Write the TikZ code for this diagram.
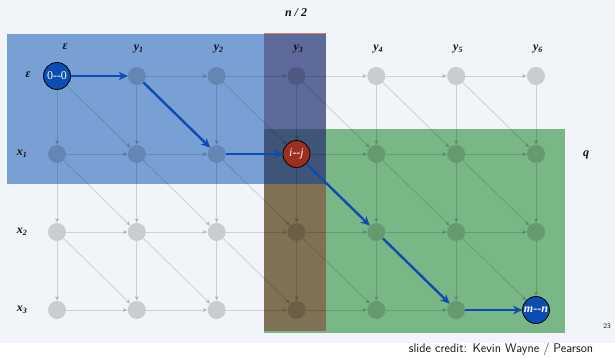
\documentclass[tikz,border=0pt]{standalone}
\usepackage{fontspec}
\newfontfamily\labfont{Liberation Serif}
\usetikzlibrary{arrows.meta}
\definecolor{slidebg}{HTML}{F1F4F8}
\definecolor{leftpart}{HTML}{78A0D5}
\definecolor{rightpart}{HTML}{79B886}
\definecolor{midtop}{HTML}{5D6A9A}
\definecolor{midcore}{HTML}{3E5577}
\definecolor{midlow}{HTML}{7F7153}
\definecolor{midedge}{HTML}{D08070}
\definecolor{route}{HTML}{0B4DB2}
\definecolor{pivot}{HTML}{9E2E20}
\definecolor{ink}{HTML}{111111}
\tikzset{
  % grid vertices and edges are black at low opacity, so that they darken
  % whatever region lies beneath them
  dot/.style={circle, fill=black, fill opacity=0.16, minimum size=18pt, inner sep=0pt},
  hole/.style={circle, minimum size=27pt, inner sep=0pt},
  link/.style={draw=black, opacity=0.15, line width=0.8pt,
               -{Stealth[length=5pt,width=4.5pt]}},
  route/.style={draw=route, line width=2.4pt, -{Stealth[length=9pt,width=8.5pt]}},
  endpt/.style={circle, draw=black, line width=0.8pt, fill=route, text=white,
                minimum size=27pt, inner sep=0pt, font=\labfont\fontsize{12}{12}\selectfont},
  midpt/.style={endpt, fill=pivot},
  lab/.style={text=ink, font=\labfont\bfseries\itshape\fontsize{12}{12}\selectfont},
}
\newcommand{\seq}[2]{#1\textsubscript{#2}}

\begin{document}
\begin{tikzpicture}[x=1pt,y=-1pt]
  \def\dx{79.83}
  \def\dy{78}
  \def\ox{57}
  \def\oy{76}

  \useasboundingbox (0,0) rectangle (615,357);
  \fill[slidebg] (0,0) rectangle (615,343);
  \fill[white] (0,343) rectangle (615,357);

  % --- the three regions, each overlap filled on its own --------------------
  \fill[leftpart]  (7,34) rectangle (326,184);
  \fill[rightpart] (264,129) rectangle (565,333);
  \fill[midedge]   (264,33) rectangle (326,34);
  \fill[midtop]    (264,34) rectangle (326,129);
  \fill[midcore]   (264,129) rectangle (326,184);
  \fill[midlow]    (264,184) rectangle (326,331);

  % --- edit graph -----------------------------------------------------------
  \foreach \r in {0,...,3}
    \foreach \c in {0,...,6}
      \node[dot] (g\r\c) at (\ox+\c*\dx, \oy+\r*\dy) {};
  % the three marked vertices are wider, so edges stop at their rims
  \node[hole] (g00) at (g00) {};
  \node[hole] (g13) at (g13) {};
  \node[hole] (g36) at (g36) {};

  \foreach \r in {0,...,3} {
    \foreach \c in {0,...,6} {
      \pgfmathtruncatemacro\rnext{\r+1}
      \pgfmathtruncatemacro\cnext{\c+1}
      \ifnum\c<6 \draw[link] (g\r\c) -- (g\r\cnext); \fi
      \ifnum\r<3 \draw[link] (g\r\c) -- (g\rnext\c); \fi
      \ifnum\r<3 \ifnum\c<6 \draw[link] (g\r\c) -- (g\rnext\cnext); \fi\fi
    }
  }

  % --- shortest path through the middle vertex -----------------------------
  \node[endpt] (start) at (g00) {0--0};
  \node[midpt] (mid) at (g13) {\itshape i--j};
  \node[endpt] (stop) at (g36) {\bfseries\itshape m--n};

  \draw[route] (start) -- (g01);
  \draw[route] (g01) -- (g12);
  \draw[route] (g12) -- (mid);
  \draw[route] (mid) -- (g24);
  \draw[route] (g24) -- (g35);
  \draw[route] (g35) -- (stop);

  % --- labels ---------------------------------------------------------------
  \node[lab] (half) at (296,13) {n / 2};
  \node[lab] (hd0) at (65,47) {ε};
  \foreach \c in {1,...,6}
    \node[lab] (hd\c) at (\ox+\c*\dx+2, 49) {\seq{y}{\c}};
  \node[lab] (rw0) at (28,75) {ε};
  \foreach \r in {1,...,3}
    \node[lab] (rw\r) at (22, \oy+\r*\dy) {\seq{x}{\r}};
  \node[lab] (qlab) at (586,155) {q};

  \node[font=\sffamily\fontsize{12.5}{12.5}\selectfont, text=ink] (credit) at (501,349)
    {slide credit: Kevin Wayne / Pearson};
  \node[font=\sffamily\fontsize{7}{7}\selectfont, text=ink] (page) at (607,326) {23};
\end{tikzpicture}
\end{document}
